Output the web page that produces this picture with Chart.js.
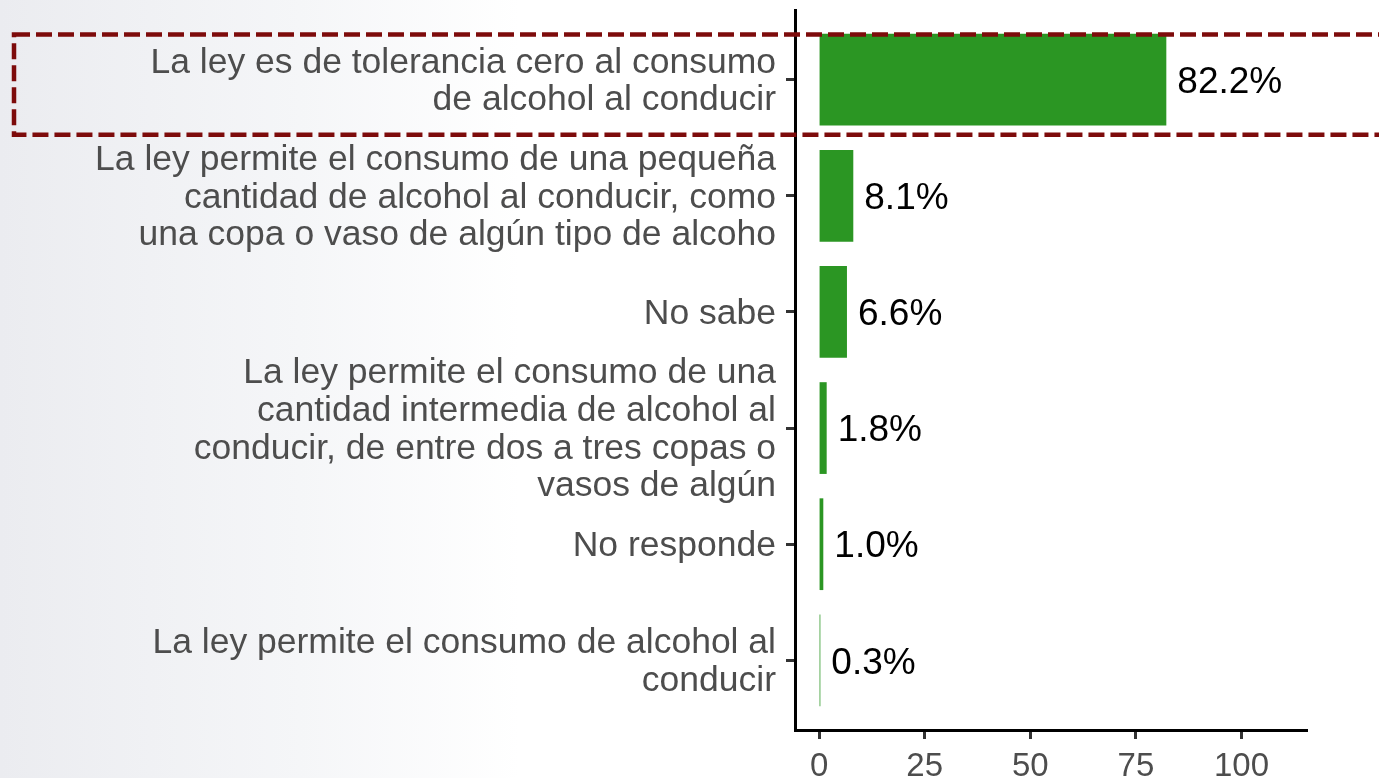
<!DOCTYPE html>
<html>
<head>
<meta charset="utf-8">
<script src="https://cdn.jsdelivr.net/npm/chart.js@4/dist/chart.umd.min.js"></script>
<style>
  html, body { margin: 0; padding: 0; width: 1379px; height: 778px; overflow: hidden;
    background: linear-gradient(to right, #ebecf0 0px, #f5f6f8 300px, #ffffff 520px); }
  #wrap { width: 1379px; height: 778px; position: relative; }
  canvas { display: block; }
</style>
</head>
<body>
<div id="wrap"><canvas id="c" width="1379" height="778"></canvas></div>
<script>
// ---- data ----
const categories = [
  ["La ley es de tolerancia cero al consumo", "de alcohol al conducir"],
  ["La ley permite el consumo de una pequeña", "cantidad de alcohol al conducir, como", "una copa o vaso de algún tipo de alcoho"],
  ["No sabe"],
  ["La ley permite el consumo de una", "cantidad intermedia de alcohol al", "conducir, de entre dos a tres copas o", "vasos de algún"],
  ["No responde"],
  ["La ley permite el consumo de alcohol al", "conducir"]
];
const values = [82.2, 8.1, 6.6, 1.8, 1.0, 0.3];
const valueLabels = ["82.2%", "8.1%", "6.6%", "1.8%", "1.0%", "0.3%"];
const xTicks = [0, 25, 50, 75, 100];
const highlightIndex = 0;

// ---- styles ----
const FONT = "'Liberation Sans', Arial, Helvetica, sans-serif";
const xMin = -5.7, xMax = 115.5;
const catExpand = 0.6;            // ggplot-style discrete expansion
const highlightSpan = [-0.39, 0.475];

const valueLabelPlugin = {
  id: 'valueLabels',
  afterDatasetsDraw(chart) {
    const ctx = chart.ctx;
    const meta = chart.getDatasetMeta(0);
    ctx.save();
    ctx.fillStyle = '#000000';
    ctx.font = '37px ' + FONT;
    ctx.textAlign = 'left';
    ctx.textBaseline = 'middle';
    meta.data.forEach((bar, i) => {
      ctx.fillText(valueLabels[i], bar.x + 11, bar.y + 3);
    });
    ctx.restore();
  }
};

const highlightPlugin = {
  id: 'highlightBox',
  afterDraw(chart) {
    const y = chart.scales.y;
    const ctx = chart.ctx;
    const unit = Math.abs(y.getPixelForValue(1) - y.getPixelForValue(0));
    const c = y.getPixelForValue(highlightIndex);
    const top = c + highlightSpan[0] * unit;
    const bottom = c + highlightSpan[1] * unit;
    ctx.save();
    ctx.strokeStyle = '#7d0b0b';
    ctx.lineWidth = 4.5;
    ctx.setLineDash([16, 6]);
    ctx.strokeRect(14, top, chart.width + 40, bottom - top);
    ctx.restore();
  }
};

new Chart(document.getElementById('c'), {
  type: 'bar',
  data: {
    labels: categories,
    datasets: [{
      data: values,
      backgroundColor: '#2b9623',
      borderWidth: 0,
      categoryPercentage: 1.0,
      barPercentage: 0.79
    }]
  },
  options: {
    indexAxis: 'y',
    responsive: false,
    animation: false,
    devicePixelRatio: 1,
    layout: { padding: { top: 10, right: 72, left: 0, bottom: 0 } },
    plugins: { legend: { display: false }, tooltip: { enabled: false } },
    scales: {
      x: {
        type: 'linear',
        min: xMin,
        max: xMax,
        afterBuildTicks: s => { s.ticks = xTicks.map(v => ({ value: v })); },
        afterFit: s => { s.height = 48; s.paddingLeft = 0; s.paddingRight = 0; },
        grid: { drawOnChartArea: false, tickLength: 9, tickWidth: 3, tickColor: '#333333' },
        border: { display: true, color: '#000000', width: 3 },
        ticks: { color: '#4d4d4d', font: { size: 33, family: FONT }, padding: 8, maxRotation: 0 }
      },
      y: {
        type: 'category',
        offset: true,
        afterBuildTicks: s => { s._startValue = -catExpand; s._valueRange = categories.length - 1 + 2 * catExpand; },
        afterFit: s => { s.width = 795; s.paddingTop = 0; s.paddingBottom = 0; },
        grid: { drawOnChartArea: false, offset: false, tickLength: 9, tickWidth: 3, tickColor: '#333333' },
        border: { display: true, color: '#000000', width: 3 },
        ticks: { color: '#4d4d4d', font: { size: 35.5, family: FONT, lineHeight: 1.06 }, padding: 10, autoSkip: false, labelOffset: 2 }
      }
    }
  },
  plugins: [valueLabelPlugin, highlightPlugin]
});
</script>
</body>
</html>
